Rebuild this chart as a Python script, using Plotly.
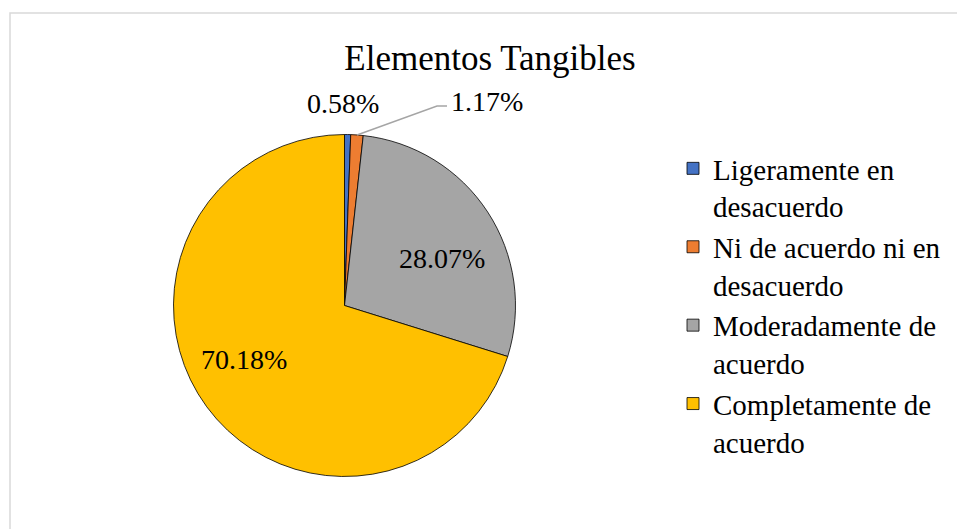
import math
import plotly.graph_objects as go

# ---- data ----
categories = ["Ligeramente en desacuerdo", "Ni de acuerdo ni en desacuerdo",
              "Moderadamente de acuerdo", "Completamente de acuerdo"]
legend_names = ["Ligeramente en<br>desacuerdo", "Ni de acuerdo ni en<br>desacuerdo",
                "Moderadamente de<br>acuerdo", "Completamente de<br>acuerdo"]
values = [0.58, 1.17, 28.07, 70.18]
colors = ["#4472C4", "#ED7D31", "#A5A5A5", "#FFC000"]
title_text = "Elementos Tangibles"

W, H = 957, 529
FONT = "Liberation Serif"

# pie geometry in pixels
cx, cy, R = 344.5, 305.5, 171.0

def px(x):
    return x / W

def py(y):
    return 1 - y / H

fig = go.Figure()
fig.add_trace(go.Pie(
    labels=legend_names,
    values=values,
    sort=False,
    direction="clockwise",
    rotation=0,
    marker=dict(colors=colors, line=dict(color="#000000", width=0.8)),
    textinfo="none",
    hoverinfo="label+percent",
    domain=dict(x=[px(cx - R), px(cx + R)], y=[py(cy + R), py(cy - R)]),
))

# label positions derived from slice angles
total = sum(values)
cum = 0
mids = []
for v in values:
    mids.append((cum + v / 2) / total * 2 * math.pi)
    cum += v

def polar(a, r):
    return cx + r * math.sin(a), cy - r * math.cos(a)

annotations = []
# inside labels for big slices
inside_cfg = {2: (0.13, 0.63), 3: (0.14, 0.67)}
for i, (da, rf) in inside_cfg.items():
    x, y = polar(mids[i] + da, rf * R)
    annotations.append(dict(x=px(x), y=py(y), xref="paper", yref="paper",
                            text=f"{values[i]:.2f}%", showarrow=False,
                            font=dict(family=FONT, size=28, color="#000000"),
                            xanchor="center", yanchor="middle"))

# small slice 0: label above
ex0, ey0 = polar(mids[0], R)
annotations.append(dict(x=px(ex0 - 5), y=py(ey0 - 31), xref="paper", yref="paper",
                        text=f"{values[0]:.2f}%", showarrow=False,
                        font=dict(family=FONT, size=28, color="#000000"),
                        xanchor="center", yanchor="middle"))
# small slice 1: label with leader line
ex1, ey1 = polar(mids[1], R)
lx, ly = ex1 + 80, ey1 - 29
annotations.append(dict(x=px(lx + 12), y=py(ly - 4), xref="paper", yref="paper",
                        text=f"{values[1]:.2f}%", showarrow=False,
                        font=dict(family=FONT, size=28, color="#000000"),
                        xanchor="left", yanchor="middle"))

shapes = [
    dict(type="path", xref="paper", yref="paper",
         path=f"M{px(ex1)},{py(ey1)} L{px(lx)},{py(ly)} L{px(lx + 10)},{py(ly)}",
         line=dict(color="#A5A5A5", width=1.5)),
    dict(type="rect", xref="paper", yref="paper",
         x0=px(10), x1=1.02, y0=-0.02, y1=py(13),
         line=dict(color="#D9D9D9", width=1.5)),
]

fig.update_layout(
    width=W, height=H,
    margin=dict(l=0, r=0, t=0, b=0),
    paper_bgcolor="#FFFFFF",
    plot_bgcolor="#FFFFFF",
    font=dict(family=FONT, color="#000000"),
    title=dict(text=title_text, x=px(490), y=py(58), xanchor="center", yanchor="middle",
               font=dict(family=FONT, size=35, color="#000000")),
    showlegend=True,
    legend=dict(x=px(673), y=py(143), xanchor="left", yanchor="top",
                font=dict(family=FONT, size=29, color="#000000"),
                valign="top", itemwidth=30, bgcolor="rgba(0,0,0,0)"),
    annotations=annotations,
    shapes=shapes,
)

fig.write_html("out.html")
